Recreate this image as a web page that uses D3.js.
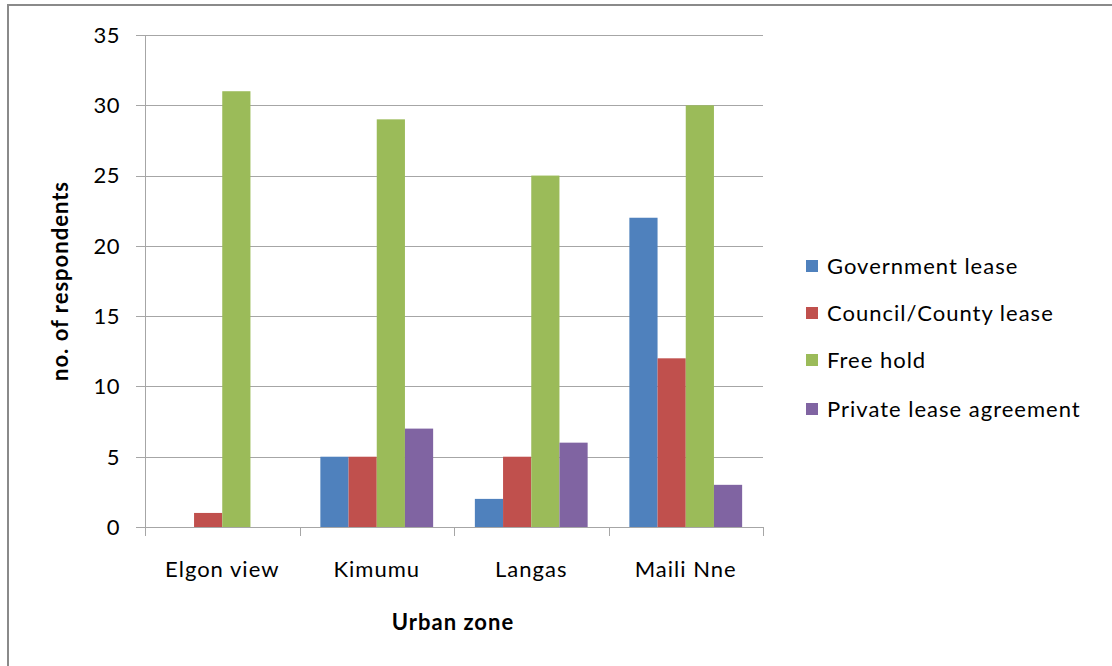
<!DOCTYPE html>
<html><head><meta charset="utf-8">
<script src="https://cdn.jsdelivr.net/npm/d3@7"></script>
<style>body{margin:0;background:#fff}svg{display:block}text{font-family:Lato,"Open Sans",sans-serif;fill:#000}</style>
</head><body><svg id="c" width="1112" height="666"></svg>
<script>
const categories = ["Elgon view","Kimumu","Langas","Maili Nne"];
const seriesNames = ["Government lease","Council/County lease","Free hold","Private lease agreement"];
const governmentLease = [0,5,2,22];
const councilLease = [1,5,5,12];
const freeHold = [31,29,25,30];
const privateLease = [0,7,6,3];
const yTicks = [0,5,10,15,20,25,30,35];
const colors = ["#4F81BD","#C0504D","#9BBB59","#8064A2"];
const seriesValues = [governmentLease,councilLease,freeHold,privateLease];

(function(){
const svg = d3.select("#c");
svg.append("line").attr("x1",7).attr("x2",1112).attr("y1",5).attr("y2",5).attr("stroke","#8a8a8a").attr("stroke-width",2);
svg.append("line").attr("x1",8).attr("x2",8).attr("y1",4).attr("y2",666).attr("stroke","#8a8a8a").attr("stroke-width",2);

const pL=145,pR=763,pT=35,pB=527;
const x = d3.scaleBand().domain(categories).range([pL,pR]).paddingInner(0.27).paddingOuter(0.135);
const x1 = d3.scaleBand().domain(seriesNames).range([0,x.bandwidth()]);
const y = d3.scaleLinear().domain([0,35]).range([pB,pT]);

svg.append("g").selectAll("line").data(yTicks).join("line")
  .attr("x1",136).attr("x2",pR).attr("y1",d=>Math.round(y(d))+0.5).attr("y2",d=>Math.round(y(d))+0.5)
  .attr("stroke","#a6a6a6").attr("stroke-width",1);
svg.append("line").attr("x1",pL+0.5).attr("x2",pL+0.5).attr("y1",pT).attr("y2",pB).attr("stroke","#a6a6a6");
svg.append("g").selectAll("text").data(yTicks).join("text")
  .attr("x",120).attr("y",d=>y(d)).attr("dy","0.36em").attr("text-anchor","end")
  .style("font-size","22px").style("letter-spacing","0.5px").text(d=>d);
const catEdges = categories.map((c,i)=>pL+(pR-pL)/categories.length*(i+1));
svg.append("g").selectAll("line").data([pL].concat(catEdges)).join("line")
  .attr("x1",d=>Math.round(d)+0.5).attr("x2",d=>Math.round(d)+0.5).attr("y1",pB).attr("y2",pB+9)
  .attr("stroke","#a6a6a6");
const groups = svg.append("g").selectAll("g").data(categories).join("g")
  .attr("transform",c=>`translate(${x(c)},0)`);
groups.selectAll("rect").data((c,i)=>seriesNames.map((s,j)=>({s,j,v:seriesValues[j][i]}))).join("rect")
  .attr("x",d=>x1(d.s)).attr("width",x1.bandwidth())
  .attr("y",d=>y(d.v)).attr("height",d=>y(0)-y(d.v))
  .attr("fill",d=>colors[d.j]);
svg.append("g").selectAll("text").data(categories).join("text")
  .attr("x",c=>x(c)+x.bandwidth()/2).attr("y",577).attr("text-anchor","middle")
  .style("font-size","22px").style("letter-spacing","1px").text(c=>c);
svg.append("text").attr("x",453).attr("y",630).attr("text-anchor","middle")
  .style("font-size","22px").style("font-weight","bold").style("letter-spacing","1px").text("Urban zone");
svg.append("text").attr("transform","translate(68,281) rotate(-90)").attr("text-anchor","middle")
  .style("font-size","22px").style("font-weight","bold").style("letter-spacing","1px").text("no. of respondents");
svg.append("line").attr("x1",136).attr("x2",pR).attr("y1",pB+0.5).attr("y2",pB+0.5).attr("stroke","#a6a6a6");
const legY = [266,313,360,409];
const leg = svg.append("g").selectAll("g").data(seriesNames).join("g")
  .attr("transform",(d,i)=>`translate(806,${legY[i]})`);
leg.append("rect").attr("x",0).attr("y",-6).attr("width",12).attr("height",12).attr("fill",(d,i)=>colors[i]);
leg.append("text").attr("x",21).attr("y",0).attr("dy","0.36em").style("font-size","22px").style("letter-spacing","1px").text(d=>d);
})();
</script></body></html>
